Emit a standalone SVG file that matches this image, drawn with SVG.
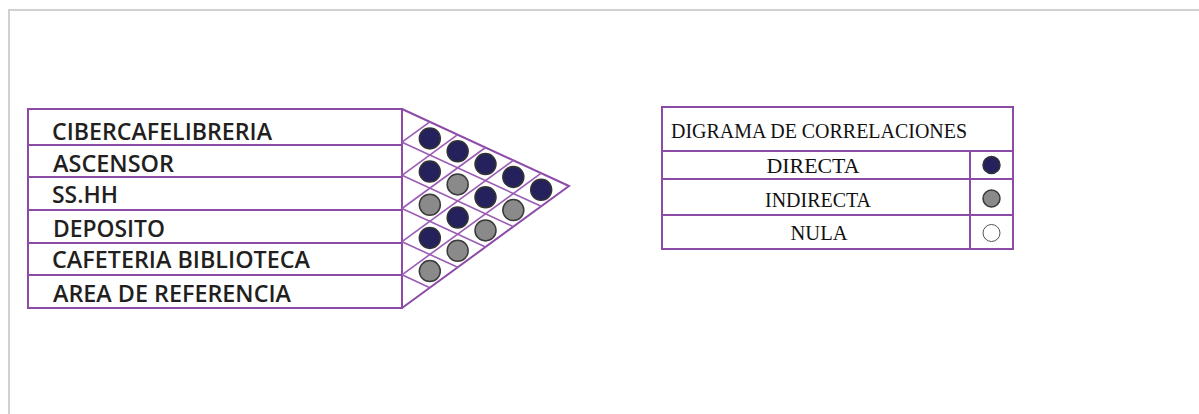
<svg xmlns="http://www.w3.org/2000/svg" width="1199" height="414" viewBox="0 0 1199 414">
<style>
.pl{stroke:#8d4ba8;fill:none;stroke-width:2}
.gl{stroke:#9b5cb5;fill:none;stroke-width:1.6}
.lbl{font-family:"Open Sans","Liberation Sans",sans-serif;font-weight:600;font-size:23px;fill:#231f20}
.tt{font-family:"Liberation Serif",serif;font-size:21px;fill:#111}
.d{fill:#24215c;stroke:#333;stroke-width:1.5}
.g{fill:#8a8a8a;stroke:#3a3a3a;stroke-width:1.5}
.w{fill:#fff;stroke:#555;stroke-width:1}
</style>
<rect x="0" y="0" width="1199" height="414" fill="#fff"/>
<rect x="9" y="10" width="1210" height="420" fill="none" stroke="#d0d0d0" stroke-width="2"/>

<g id="items">
  <rect class="pl" x="28" y="109" width="374" height="199"/>
  <g id="item1"><text class="lbl" x="52" y="140" textLength="220" lengthAdjust="spacingAndGlyphs">CIBERCAFELIBRERIA</text></g>
  <g id="item2"><line class="pl" x1="28" y1="145" x2="402" y2="145"/><text class="lbl" x="53" y="172" textLength="121" lengthAdjust="spacingAndGlyphs">ASCENSOR</text></g>
  <g id="item3"><line class="pl" x1="28" y1="177" x2="402" y2="177"/><text class="lbl" x="52" y="203" textLength="66" lengthAdjust="spacingAndGlyphs">SS.HH</text></g>
  <g id="item4"><line class="pl" x1="28" y1="210" x2="402" y2="210"/><text class="lbl" x="53" y="237" textLength="112" lengthAdjust="spacingAndGlyphs">DEPOSITO</text></g>
  <g id="item5"><line class="pl" x1="28" y1="243" x2="402" y2="243"/><text class="lbl" x="52" y="268" textLength="258" lengthAdjust="spacingAndGlyphs">CAFETERIA BIBLIOTECA</text></g>
  <g id="item6"><line class="pl" x1="28" y1="275" x2="402" y2="275"/><text class="lbl" x="53" y="302" textLength="238" lengthAdjust="spacingAndGlyphs">AREA DE REFERENCIA</text></g>
</g>

<g id="connectors">
  <polyline class="pl" points="402,109 569,186 402,308"/>
  <line class="gl" x1="402" y1="142.17" x2="541.17" y2="206.33"/>
  <line class="gl" x1="402" y1="175.33" x2="513.33" y2="226.67"/>
  <line class="gl" x1="402" y1="208.5" x2="485.5" y2="247"/>
  <line class="gl" x1="402" y1="241.67" x2="457.67" y2="267.33"/>
  <line class="gl" x1="402" y1="274.83" x2="429.83" y2="287.67"/>
  <line class="gl" x1="402" y1="142.17" x2="429.83" y2="121.83"/>
  <line class="gl" x1="402" y1="175.33" x2="457.67" y2="134.67"/>
  <line class="gl" x1="402" y1="208.5" x2="485.5" y2="147.5"/>
  <line class="gl" x1="402" y1="241.67" x2="513.33" y2="160.33"/>
  <line class="gl" x1="402" y1="274.83" x2="541.17" y2="173.17"/>
</g>

<g id="matrix">
  <circle class="d" cx="429.83" cy="138.42" r="10.5"/>
  <circle class="d" cx="457.67" cy="151.25" r="10.5"/>
  <circle class="d" cx="485.5" cy="164.08" r="10.5"/>
  <circle class="d" cx="513.33" cy="176.92" r="10.5"/>
  <circle class="d" cx="541.17" cy="189.75" r="10.5"/>
  <circle class="d" cx="429.83" cy="171.58" r="10.5"/>
  <circle class="g" cx="457.67" cy="184.42" r="10.5"/>
  <circle class="d" cx="485.5" cy="197.25" r="10.5"/>
  <circle class="g" cx="513.33" cy="210.08" r="10.5"/>
  <circle class="g" cx="429.83" cy="204.75" r="10.5"/>
  <circle class="d" cx="457.67" cy="217.58" r="10.5"/>
  <circle class="g" cx="485.5" cy="230.42" r="10.5"/>
  <circle class="d" cx="429.83" cy="237.92" r="10.5"/>
  <circle class="g" cx="457.67" cy="250.75" r="10.5"/>
  <circle class="g" cx="429.83" cy="271.08" r="10.5"/>
</g>

<g id="legend">
  <rect class="pl" x="662" y="107" width="351" height="142"/>
  <line class="pl" x1="662" y1="151" x2="1013" y2="151"/>
  <line class="pl" x1="662" y1="179" x2="1013" y2="179"/>
  <line class="pl" x1="662" y1="215" x2="1013" y2="215"/>
  <line class="pl" x1="970" y1="151" x2="970" y2="249"/>
  <text class="tt" x="671" y="137.5" textLength="296" lengthAdjust="spacingAndGlyphs">DIGRAMA DE CORRELACIONES</text>
  <g id="leg-directa"><text class="tt" x="813" y="172.5" text-anchor="middle" textLength="93" lengthAdjust="spacingAndGlyphs">DIRECTA</text><circle class="d" cx="991.5" cy="165" r="8.5" stroke-width="1"/></g>
  <g id="leg-indirecta"><text class="tt" x="818" y="206.5" text-anchor="middle" textLength="106" lengthAdjust="spacingAndGlyphs">INDIRECTA</text><circle class="g" cx="991.5" cy="198.5" r="8.5" stroke-width="1"/></g>
  <g id="leg-nula"><text class="tt" x="819" y="240" text-anchor="middle" textLength="57" lengthAdjust="spacingAndGlyphs">NULA</text><circle class="w" cx="991.5" cy="233" r="8.5"/></g>
</g>
</svg>
